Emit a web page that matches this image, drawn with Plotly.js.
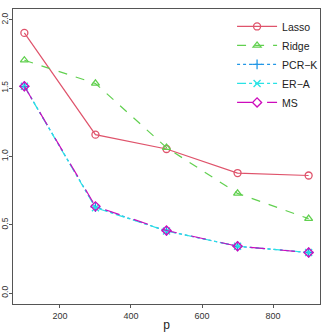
<!DOCTYPE html>
<html>
<head>
<meta charset="utf-8">
<script src="https://cdn.plot.ly/plotly-3.0.1.min.js"></script>
<style>
  html, body { margin: 0; padding: 0; background: #fff; }
  #chart { width: 332px; height: 332px; }
</style>
</head>
<body>
<div id="chart"></div>
<script>
// ── Data ──────────────────────────────────────────────────────
const P_VALUES = [100, 300, 500, 700, 900];
const LASSO = [1.905, 1.16, 1.055, 0.879, 0.861];
const RIDGE = [1.705, 1.535, 1.065, 0.73, 0.545];
const PCR_K = [1.514, 0.63, 0.455, 0.343, 0.297];
const ER_A  = [1.514, 0.625, 0.455, 0.343, 0.297];
const MS    = [1.514, 0.635, 0.458, 0.343, 0.297];

const Y_TICKS = [0, 0.5, 1, 1.5, 2];
const Y_TICK_TEXT = ["0.0", "0.5", "1.0", "1.5", "2.0"];
const X_TICKS = [200, 400, 600, 800];

// ── Series styles ─────────────────────────────────────────────
const SERIES = [
  { name: "Lasso",  y: LASSO, color: "#DF536B", dash: "solid",    symbol: "circle-open" },
  { name: "Ridge",  y: RIDGE, color: "#61D04F", dash: "dash",     symbol: "triangle-up-open" },
  { name: "PCR\u2212K", y: PCR_K, color: "#2297E6", dash: "dot",  symbol: "cross-thin-open" },
  { name: "ER\u2212A",  y: ER_A,  color: "#28E2E5", dash: "dashdot", symbol: "x-thin-open" },
  { name: "MS",     y: MS,    color: "#CD0BBC", dash: "longdash", symbol: "diamond-open" },
];

const traces = SERIES.map(s => ({
  name: s.name,
  x: P_VALUES,
  y: s.y,
  type: "scatter",
  mode: "lines+markers",
  line: { color: s.color, width: 1.2, dash: s.dash },
  marker: { color: s.color, symbol: s.symbol, size: 7, line: { color: s.color, width: 1.3 } },
}));

const axisBase = {
  showgrid: false,
  zeroline: false,
  showline: true,
  mirror: true,
  linecolor: "#555",
  linewidth: 1,
  ticks: "outside",
  ticklen: 3,
  tickcolor: "#555",
  tickfont: { family: "Liberation Sans, Arial, sans-serif", size: 9, color: "#333" },
};

const layout = {
  width: 332,
  height: 332,
  margin: { t: 9, r: 10, b: 28, l: 13 },
  paper_bgcolor: "#fff",
  plot_bgcolor: "#fff",
  font: { family: "Liberation Sans, Arial, sans-serif", color: "#222" },
  xaxis: Object.assign({}, axisBase, {
    range: [68, 932],
    tickvals: X_TICKS,
    title: { text: "p", font: { size: 12 }, standoff: 0 },
  }),
  yaxis: Object.assign({}, axisBase, {
    range: [-0.08, 2.08],
    tickvals: Y_TICKS,
    ticktext: Y_TICK_TEXT,
    tickangle: -90,
    tickfont: { family: "Liberation Sans, Arial, sans-serif", size: 8.5, color: "#333" },
    ticklabelstandoff: -2,
  }),
  legend: {
    x: 1.01,
    xanchor: "right",
    y: 0.99,
    yanchor: "top",
    bgcolor: "rgba(0,0,0,0)",
    font: { size: 10.5, color: "#222" },
    tracegroupgap: 0,
    itemwidth: 40,
  },
  showlegend: true,
};

Plotly.newPlot("chart", traces, layout, { displayModeBar: false, staticPlot: true });
</script>
</body>
</html>
